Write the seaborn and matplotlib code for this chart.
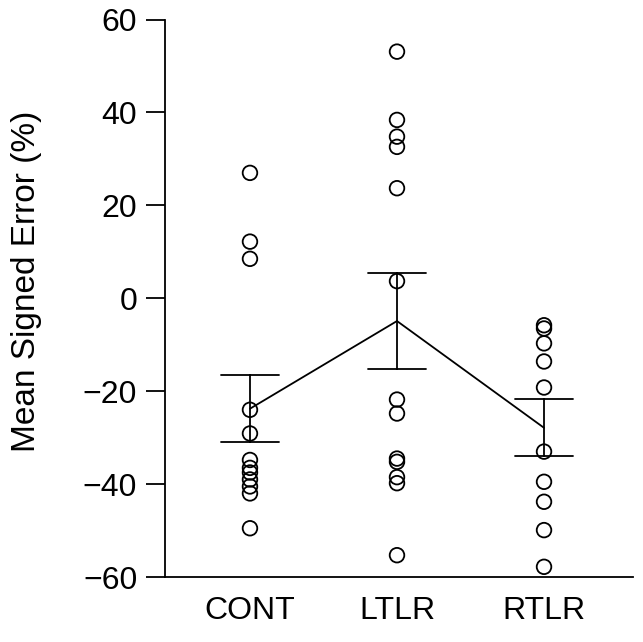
import numpy as np
import pandas as pd
import seaborn as sns
import matplotlib.pyplot as plt

# values
groups = ['CONT', 'LTLR', 'RTLR']
cont = [27.0, 12.2, 8.5, -24.0, -29.1, -34.8, -36.5, -37.5, -39.0, -40.5, -42.0, -49.5]
ltlr = [53.1, 38.4, 34.8, 32.6, 23.7, 3.7, -21.8, -24.8, -34.5, -35.2, -38.5, -39.8, -55.3]
rtlr = [-5.8, -6.5, -9.7, -13.6, -19.2, -33.0, -39.5, -43.8, -49.9, -57.8]
yticks = [-60, -40, -20, 0, 20, 40, 60]

df = pd.DataFrame({
    'group': ['CONT'] * len(cont) + ['LTLR'] * len(ltlr) + ['RTLR'] * len(rtlr),
    'err': cont + ltlr + rtlr,
})

sns.set_style('ticks')
plt.rcParams['font.family'] = ['Liberation Sans', 'DejaVu Sans']
plt.rcParams['text.color'] = 'black'
plt.rcParams['axes.labelcolor'] = 'black'
plt.rcParams['xtick.color'] = 'black'
plt.rcParams['ytick.color'] = 'black'

fig = plt.figure(figsize=(6.43, 6.42), dpi=100)
ax = fig.add_axes([0.2566, 0.1012, 0.7278, 0.8683])

# individual subjects, open circles
sns.stripplot(data=df, x='group', y='err', order=groups, jitter=False,
              size=10.5, marker='o', facecolor='none', edgecolor='black',
              linewidth=1.3, ax=ax, zorder=3)

# group mean +/- SE connected by a line
sns.pointplot(data=df, x='group', y='err', order=groups, errorbar='se',
              color='black', markers='', capsize=0.4, linewidth=1.3,
              err_kws={'linewidth': 1.3}, ax=ax)

ax.set_xlim(-0.578, 2.605)
ax.set_ylim(-60, 60)
ax.set_yticks(yticks)
ax.set_yticklabels([str(t).replace('-', '\u2212') for t in yticks])
ax.set_xlabel('')
ax.set_ylabel('Mean Signed Error (%)', fontsize=24)
ax.yaxis.set_label_coords(-0.262, 0.53)

ax.tick_params(axis='y', labelsize=23, length=14, width=1.3, pad=6)
ax.tick_params(axis='x', labelsize=23, length=0, pad=14)

sns.despine(ax=ax, top=True, right=True)
ax.spines['left'].set_bounds(-60, 60)
for s in ['left', 'bottom']:
    ax.spines[s].set_linewidth(1.3)
    ax.spines[s].set_color('black')

fig.savefig('out.png', dpi=100)
